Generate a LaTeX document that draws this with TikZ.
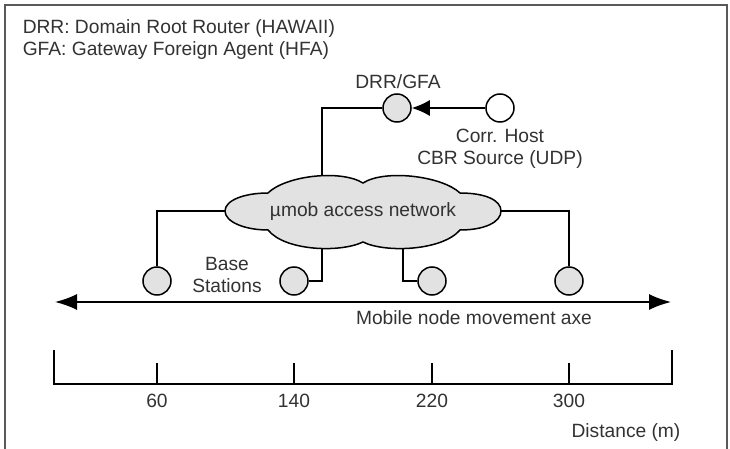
\documentclass[tikz,border=0pt]{standalone}
\usepackage{fontspec}
\setmainfont{Liberation Sans}
\usepackage{xcolor}
\usepackage{tikz}
\usetikzlibrary{arrows.meta, positioning}

\definecolor{txtgray}{RGB}{50,50,50}
\definecolor{fillgray}{RGB}{226,226,226}

\tikzset{
  station/.style={circle, draw, fill=fillgray, minimum size=14pt, inner sep=0pt},
  host/.style={station, fill=white},
  lbl/.style={text=txtgray, inner sep=0pt, anchor=base, font=\fontsize{9.6}{11}\selectfont},
}

\begin{document}
\begin{tikzpicture}[x=0.5pt, y=-0.5pt, line width=0.75pt, >={Latex[length=9pt,width=8pt]}]
    \useasboundingbox (0,0) rectangle (730,449);
    % 1. Khung
    \draw[line width=1pt, black!65] (5,449) -- (5,5) -- (727,5) -- (727,449);

    % 2. Chu thich
    \node[lbl, anchor=base west] (legdrr) at (22,34) {DRR: Domain Root Router (HAWAII)};
    \node[lbl, anchor=base west] (leggfa) at (22,56) {GFA: Gateway Foreign Agent (HFA)};

    % 3. DRR/GFA va Corr. Host
    \node[station] (drr) at (397,108) {};
    \node[lbl] (drrlbl) at (398,89) {DRR/GFA};
    \node[host] (ch) at (500,108) {};
    \node[lbl] (chlbl) at (500,143) {Corr. Host};
    \node[lbl] (cbrlbl) at (500,165) {CBR Source (UDP)};
    \draw[->] (ch) -- (drr);

    % 4. Cac tram goc
    \foreach \x/\n in {157/bsa, 294/bsb, 432/bsc, 569/bsd}
        \node[station] (\n) at (\x,281) {};
    \node[lbl] (baselbl) at (227,271) {Base};
    \node[lbl] (stalbl) at (227,293) {Stations};

    % 5. Noi vao mang
    \coordinate (ctop) at (322,200);
    \coordinate (cbl) at (322,225);
    \coordinate (cbr) at (403,225);
    \coordinate (cl) at (240,211);
    \coordinate (cr) at (490,211);
    \draw (drr) -| (ctop);
    \draw (cl) -| (bsa);
    \draw (bsb) -| (cbl);
    \draw (bsc) -| (cbr);
    \draw (cr) -| (bsd);

    % 6. Dam may
    \draw[fill=fillgray] (225,211)
        .. controls (225,200) and (245,193) .. (268,193)
        .. controls (285,176) and (340,169) .. (363,183)
        .. controls (385,169) and (442,176) .. (460,193)
        .. controls (485,193) and (501,200) .. (501,211)
        .. controls (501,222) and (485,230) .. (460,230)
        .. controls (442,251) and (385,253) .. (363,242)
        .. controls (340,253) and (285,251) .. (268,230)
        .. controls (245,230) and (225,222) .. (225,211) -- cycle;
    \node[lbl] (net) at (363,217) {µmob access network};

    % 7. Truc di chuyen
    \coordinate (axl) at (55,302);
    \coordinate (axr) at (671,302);
    \draw[{Latex[length=11pt,width=8pt]}-{Latex[length=11pt,width=8pt]}] (axl) -- (axr);
    \node[lbl] (axlbl) at (474,325) {Mobile node movement axe};

    % 8. Thang khoang cach
    \draw (54,350) -- (54,384) -- (672,384) -- (672,350);
    \foreach \d/\x in {60/157, 140/294, 220/432, 300/569} {
        \draw (\x,384) -- (\x,363);
        \node[lbl] (tick\d) at (\x,408) {\d};
    }
    \node[lbl] (distlbl) at (626,438) {Distance (m)};
\end{tikzpicture}
\end{document}
